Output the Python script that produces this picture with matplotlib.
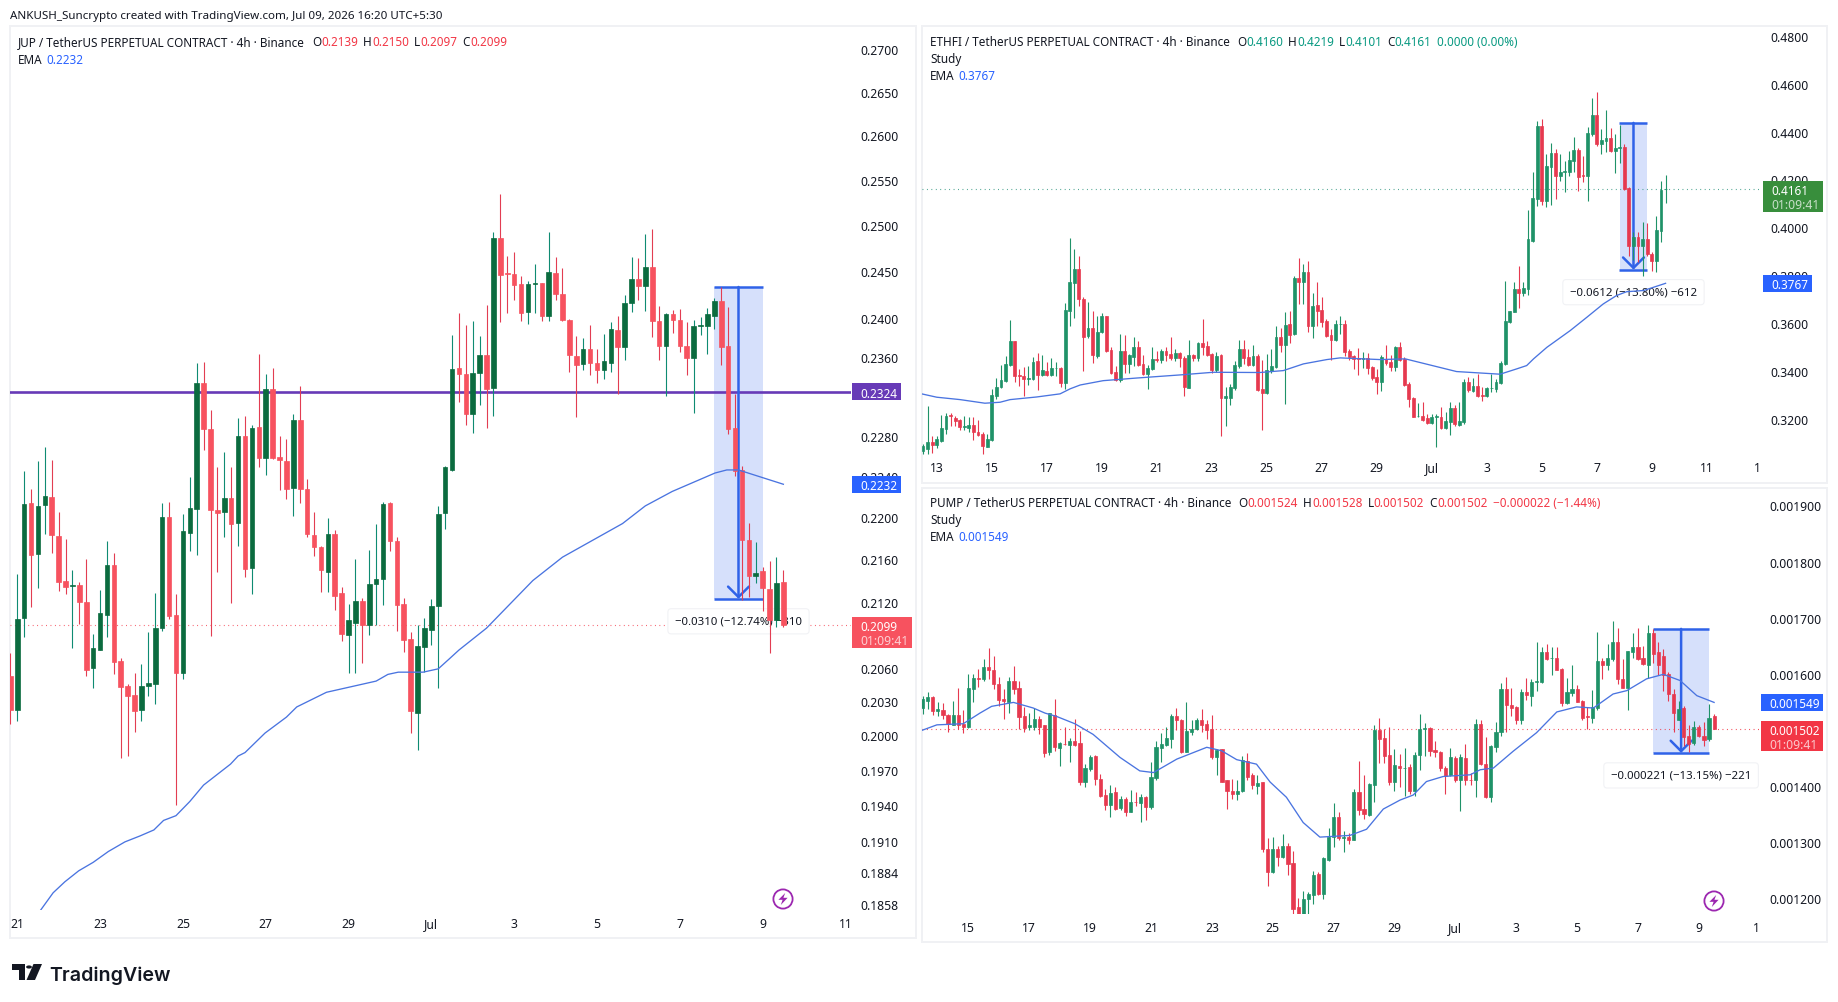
import numpy as np
import matplotlib
matplotlib.use("Agg")
import matplotlib.pyplot as plt
from matplotlib.patches import Rectangle, Circle, Polygon

plt.rcParams['font.family'] = ['Noto Sans', 'DejaVu Sans']

W, H = 1838, 1003
INK = '#131722'
RED_TXT = '#f23645'
GREEN_TXT = '#089981'
BLUE = '#2962ff'

# JUP perpetual, 4h candles, prices in ticks of 0.0001
jup_open = [2053,2022,2105,2214,2165,2212,2220,2182,2140,2135,
            2136,2120,2060,2076,2108,2155,2066,2044,2036,2022,
            2044,2045,2096,2200,2108,2055,2185,2208,2333,2287,
            2207,2205,2219,2195,2280,2152,2289,2258,2327,2259,
            2255,2228,2296,2227,2183,2172,2148,2184,2128,2090,
            2101,2121,2099,2137,2141,2214,2177,2118,2086,2020,
            2079,2094,2116,2204,2246,2348,2342,2302,2343,2362,
            2328,2486,2448,2447,2436,2407,2436,2437,2402,2448,
            2426,2398,2361,2352,2368,2354,2346,2354,2388,2370,
            2416,2441,2434,2454,2397,2371,2404,2398,2371,2359,
            2392,2392,2402,2418,2371,2288,2246,2178,2144,2149,
            2132,2103,2139]
jup_high = [2073,2146,2245,2227,2255,2269,2256,2205,2179,2150,
            2139,2160,2091,2131,2177,2166,2069,2045,2055,2063,
            2092,2128,2214,2215,2127,2203,2239,2353,2355,2306,
            2249,2264,2249,2298,2300,2291,2363,2342,2348,2280,
            2277,2302,2330,2237,2205,2173,2199,2188,2134,2118,
            2160,2124,2169,2194,2215,2215,2181,2124,2092,2099,
            2105,2123,2211,2250,2382,2405,2393,2397,2381,2414,
            2492,2534,2466,2471,2445,2439,2458,2437,2492,2465,
            2453,2399,2381,2379,2393,2368,2383,2396,2402,2425,
            2465,2464,2490,2495,2413,2405,2409,2410,2396,2398,
            2401,2411,2421,2433,2412,2322,2250,2195,2176,2153,
            2158,2162,2150]
jup_low = [2010,2013,2088,2115,2133,2184,2166,2130,2127,2078,
           2100,2053,2042,2076,2088,2054,1980,1982,2003,2013,
           2035,2028,2093,2104,1940,2050,2168,2164,2266,2089,
           2148,2181,2119,2173,2143,2127,2249,2241,2257,2226,
           2218,2201,2214,2181,2163,2129,2129,2113,2084,2055,
           2055,2064,2090,2099,2117,2168,2093,2074,2002,1987,
           2056,2081,2042,2189,2245,2314,2291,2283,2311,2288,
           2300,2396,2406,2419,2397,2394,2406,2397,2397,2419,
           2397,2344,2299,2346,2341,2333,2337,2344,2322,2357,
           2407,2419,2408,2380,2357,2320,2385,2365,2341,2303,
           2382,2363,2389,2351,2282,2240,2122,2125,2138,2112,
           2073,2097,2097]
jup_close = [2022,2104,2213,2164,2211,2221,2183,2139,2134,2136,
             2120,2058,2078,2110,2155,2065,2043,2035,2021,2044,
             2046,2096,2200,2107,2055,2187,2209,2333,2287,2207,
             2204,2219,2194,2280,2151,2288,2258,2327,2258,2256,
             2227,2296,2227,2184,2172,2150,2184,2126,2091,2103,
             2121,2099,2137,2141,2213,2177,2117,2085,2021,2080,
             2096,2116,2203,2249,2347,2342,2302,2343,2362,2327,
             2486,2446,2447,2435,2406,2436,2437,2402,2449,2426,
             2398,2362,2351,2368,2353,2346,2356,2389,2370,2416,
             2441,2434,2454,2397,2371,2404,2398,2371,2359,2392,
             2393,2404,2418,2370,2287,2245,2178,2144,2147,2133,
             2103,2138,2099]
jup_ema_bar = [4.4,6.2,7.9,9.9,12,14.2,16.6,18.8,20.8,22.2,24,26,28,31.9,33,34,36.9,40,41.5,45.8,
               53,54.7,56.2,59.8,62,63.6,65,69,75.7,80,88.7,92,95.9,102.1,103.8,105.5,112]
jup_ema = [1853,1867,1876,1885,1892,1901,1909,1914,1919,1927,1931,1943,1957,1975,1982,1985,2002,2016,2025,2038,
           2048,2054,2056,2056,2059,2068,2076,2096,2140,2162,2194,2211,2225,2243,2246,2246,2232]
jup_ticks = [.2700,.2650,.2600,.2550,.2500,.2450,.2400,.2360,.2280,.2240,.2200,.2160,.2120,
             .2060,.2030,.2000,.1970,.1940,.1910,.1884,.1858]
jup_dates = ['21','23','25','27','29','Jul','3','5','7','9','11']

# ETHFI perpetual, 4h candles, prices in ticks of 0.0001
eth_open = [3068,3076,3104,3094,3111,3160,3218,3207,3196,3168,
            3165,3176,3149,3139,3085,3114,3299,3334,3361,3428,
            3525,3385,3379,3370,3368,3441,3385,3402,3385,3413,
            3414,3352,3653,3769,3827,3702,3548,3580,3463,3563,
            3630,3489,3399,3365,3485,3431,3461,3502,3429,3388,
            3410,3452,3449,3485,3473,3457,3475,3456,3332,3468,
            3454,3518,3504,3471,3406,3466,3288,3290,3331,3424,
            3493,3460,3427,3463,3327,3310,3400,3417,3542,3510,
            3596,3556,3788,3771,3813,3588,3677,3656,3610,3552,
            3531,3596,3598,3485,3463,3456,3452,3454,3416,3377,
            3357,3452,3438,3418,3500,3452,3347,3289,3213,3215,
            3206,3185,3211,3211,3163,3190,3249,3176,3190,3354,
            3318,3340,3302,3296,3329,3327,3352,3431,3607,3649,
            3744,3727,3744,3945,4119,4423,4112,4252,4309,4216,
            4230,4233,4279,4323,4219,4216,4390,4469,4348,4362,
            4373,4319,4332,4334,4163,3921,3959,3924,3952,3890,
            3862,3985,4160]
eth_high = [3097,3257,3132,3132,3218,3226,3225,3213,3201,3213,
            3208,3208,3196,3146,3138,3327,3371,3427,3463,3614,
            3525,3410,3417,3421,3459,3477,3466,3438,3454,3438,
            3420,3685,3956,3910,3880,3709,3688,3650,3632,3644,
            3630,3500,3424,3556,3552,3473,3542,3525,3466,3427,
            3500,3486,3491,3502,3545,3493,3482,3463,3531,3473,
            3524,3618,3528,3477,3480,3471,3334,3348,3441,3529,
            3531,3493,3510,3473,3449,3473,3493,3588,3580,3646,
            3652,3799,3873,3848,3859,3726,3771,3709,3618,3577,
            3612,3632,3612,3493,3466,3496,3480,3477,3421,3410,
            3468,3510,3466,3507,3524,3459,3354,3292,3268,3271,
            3222,3222,3222,3250,3229,3271,3260,3271,3366,3375,
            3371,3389,3334,3334,3389,3368,3441,3776,3653,3771,
            3838,3771,4073,4230,4444,4452,4307,4352,4327,4307,
            4279,4320,4376,4330,4300,4418,4541,4564,4411,4489,
            4414,4390,4427,4347,4168,3980,3980,4022,4019,3899,
            4049,4193,4219]
eth_low = [3056,3056,3060,3079,3104,3139,3174,3171,3157,3157,
           3146,3115,3129,3057,3083,3111,3285,3329,3357,3421,
           3357,3340,3299,3343,3365,3324,3379,3379,3382,3379,
           3336,3327,3588,3623,3674,3402,3538,3435,3454,3560,
           3482,3389,3361,3357,3393,3393,3424,3421,3385,3327,
           3407,3438,3435,3445,3449,3445,3417,3299,3329,3441,
           3443,3468,3463,3393,3399,3132,3171,3261,3324,3413,
           3431,3421,3424,3316,3157,3306,3393,3413,3480,3264,
           3518,3552,3681,3681,3566,3538,3591,3584,3542,3449,
           3528,3556,3463,3449,3410,3386,3413,3389,3365,3307,
           3318,3427,3403,3403,3445,3340,3253,3208,3208,3194,
           3181,3181,3083,3160,3160,3136,3171,3171,3181,3315,
           3313,3292,3278,3292,3315,3315,3347,3428,3602,3646,
           3664,3716,3719,3941,4088,4094,4087,4094,4119,4195,
           4147,4216,4233,4154,4188,4112,4383,4339,4308,4316,
           4316,4227,4269,4158,3880,3866,3858,3796,3883,3820,
           3813,3938,4101]
eth_close = [3090,3104,3094,3117,3163,3215,3213,3193,3168,3172,
             3176,3149,3135,3089,3118,3302,3334,3364,3431,3525,
             3382,3381,3368,3372,3438,3385,3406,3385,3413,3414,
             3352,3656,3771,3827,3702,3545,3581,3466,3566,3630,
             3486,3393,3365,3485,3431,3466,3500,3427,3390,3413,
             3452,3449,3484,3468,3457,3477,3454,3334,3467,3457,
             3518,3500,3466,3406,3463,3288,3295,3334,3425,3493,
             3457,3427,3463,3324,3311,3406,3421,3542,3510,3593,
             3552,3791,3771,3813,3587,3671,3653,3607,3549,3532,
             3598,3599,3482,3460,3452,3453,3454,3413,3371,3357,
             3459,3435,3418,3502,3449,3343,3285,3211,3215,3199,
             3185,3208,3213,3163,3194,3249,3181,3194,3354,3322,
             3340,3296,3299,3329,3331,3354,3435,3609,3650,3744,
             3727,3746,3952,4122,4423,4112,4255,4311,4216,4230,
             4236,4280,4323,4212,4213,4393,4469,4348,4366,4373,
             4320,4332,4334,4161,3924,3959,3924,3952,3888,3862,
             3988,4158,4161]
eth_ema_bar = [-0.3,3,8.1,13.5,16.8,19,24.8,29.9,32.1,34.3,39.3,46.6,56.1,63.3,73.5,78.6,83,88.1,91,
               99.7,105.2,116.4,125.9,129.5,131.7,133.2,136.1,141.2,144.8,148.4,151.3,153.5,157.2,162]
eth_ema = [3306,3292,3282,3267,3271,3282,3293,3306,3327,3343,3361,3372,3385,3396,3395,3403,3431,3449,3456,
           3449,3452,3399,3388,3410,3424,3452,3500,3570,3625,3681,3716,3732,3737,3767]
eth_ticks = [.48,.46,.44,.42,.40,.38,.36,.34,.32]
eth_dates = ['13','15','17','19','21','23','25','27','29','Jul','3','5','7','9','11','1']

# PUMP perpetual, 4h candles, prices in ticks of 0.000001
pump_open = [1539,1552,1559,1533,1535,1527,1509,1527,1511,1505,
             1573,1593,1590,1612,1607,1582,1555,1549,1588,1575,
             1524,1505,1505,1520,1508,1460,1527,1467,1475,1473,
             1480,1476,1407,1430,1454,1413,1384,1366,1389,1360,
             1377,1354,1372,1370,1380,1362,1414,1467,1473,1484,
             1524,1518,1461,1497,1502,1518,1511,1501,1451,1466,
             1410,1392,1386,1391,1445,1419,1400,1407,1288,1246,
             1287,1273,1294,1263,1184,1172,1198,1206,1243,1208,
             1268,1309,1344,1307,1310,1304,1390,1359,1348,1402,
             1500,1485,1455,1408,1435,1432,1434,1392,1455,1501,
             1504,1464,1461,1433,1420,1450,1410,1450,1411,1410,
             1511,1439,1380,1469,1496,1573,1544,1540,1518,1567,
             1561,1586,1585,1638,1628,1629,1609,1548,1566,1573,
             1552,1525,1522,1539,1622,1615,1626,1656,1591,1574,
             1638,1647,1628,1616,1673,1638,1631,1600,1564,1518,
             1539,1490,1477,1506,1489,1483,1524]
pump_high = [1560,1567,1561,1549,1548,1528,1552,1574,1536,1600,
             1600,1609,1626,1646,1632,1594,1573,1594,1614,1588,
             1540,1531,1539,1525,1509,1531,1555,1478,1506,1485,
             1520,1498,1439,1456,1455,1421,1395,1402,1398,1383,
             1380,1393,1389,1386,1383,1443,1480,1495,1506,1528,
             1539,1520,1549,1518,1522,1537,1517,1526,1466,1466,
             1411,1413,1410,1454,1459,1424,1420,1408,1307,1309,
             1294,1314,1298,1284,1200,1213,1212,1248,1246,1273,
             1325,1370,1354,1320,1316,1394,1445,1420,1405,1509,
             1522,1502,1505,1466,1457,1467,1439,1461,1528,1512,
             1505,1481,1463,1435,1467,1454,1457,1475,1424,1520,
             1518,1488,1473,1514,1584,1594,1574,1543,1572,1592,
             1591,1656,1647,1653,1647,1647,1610,1592,1615,1580,
             1554,1540,1571,1674,1629,1653,1694,1682,1626,1641,
             1673,1681,1650,1687,1680,1657,1645,1604,1573,1552,
             1543,1509,1516,1509,1514,1546,1528]
pump_low = [1529,1537,1526,1525,1520,1497,1508,1501,1495,1504,
            1549,1576,1588,1591,1573,1542,1520,1531,1564,1501,
            1497,1499,1499,1493,1452,1455,1463,1435,1473,1442,
            1471,1402,1399,1427,1401,1380,1358,1345,1358,1358,
            1347,1353,1364,1336,1340,1359,1411,1442,1471,1467,
            1499,1459,1460,1491,1499,1497,1484,1449,1420,1407,
            1359,1377,1376,1390,1411,1394,1386,1282,1222,1245,
            1258,1271,1241,1168,1168,1168,1172,1190,1206,1198,
            1267,1291,1304,1283,1297,1303,1348,1342,1347,1371,
            1441,1441,1401,1392,1398,1383,1386,1382,1429,1454,
            1454,1451,1427,1386,1417,1407,1356,1402,1401,1380,
            1438,1378,1372,1461,1489,1496,1525,1511,1511,1554,
            1543,1569,1584,1624,1597,1606,1543,1546,1560,1549,
            1517,1502,1512,1536,1591,1607,1622,1582,1574,1536,
            1629,1624,1615,1592,1620,1598,1570,1552,1496,1517,
            1472,1460,1473,1487,1471,1481,1502]
pump_close = [1555,1559,1533,1537,1526,1511,1527,1509,1506,1575,
              1592,1591,1612,1606,1582,1553,1552,1588,1573,1523,
              1503,1508,1520,1506,1459,1530,1469,1476,1474,1480,
              1473,1407,1432,1452,1413,1383,1366,1388,1359,1377,
              1354,1372,1371,1380,1362,1416,1469,1475,1485,1525,
              1517,1461,1498,1501,1518,1509,1499,1451,1465,1408,
              1392,1386,1391,1447,1416,1401,1405,1287,1246,1287,
              1273,1294,1261,1181,1172,1199,1208,1241,1207,1271,
              1310,1344,1307,1310,1304,1390,1358,1350,1404,1500,
              1484,1454,1407,1438,1432,1433,1392,1455,1501,1504,
              1463,1460,1432,1418,1451,1410,1451,1410,1410,1511,
              1439,1380,1471,1496,1573,1544,1539,1518,1567,1562,
              1586,1587,1638,1626,1629,1607,1548,1567,1573,1550,
              1522,1523,1540,1622,1615,1628,1656,1590,1575,1640,
              1647,1626,1618,1673,1635,1615,1598,1564,1530,1537,
              1487,1475,1506,1489,1482,1522,1502]
pump_ema_bar = [-0.2,2.8,8,11.3,13.6,17.9,21.8,24.1,26.4,30,33.6,38.9,42.8,45.5,50.1,56,58.9,61.9,65.8,
                68.5,71.7,75,78.3,84.2,87.5,90.8,94.1,96.7,99.3,102.6,107.9,109.9,112.5,116.4,121,125,
                128.9,132.2,136.1,138.8,142.7,146,149.3,152.6,156]
pump_ema = [1499,1509,1511,1530,1542,1549,1539,1530,1524,1511,1492,1451,1427,1424,1448,1469,1463,1447,1439,
            1407,1380,1335,1309,1312,1323,1359,1375,1384,1408,1417,1420,1429,1432,1462,1495,1532,
            1541,1539,1564,1570,1591,1599,1588,1561,1549]
pump_ticks = [.0019,.0018,.0017,.0016,.0014,.0013,.0012]
pump_dates = ['15','17','19','21','23','25','27','29','Jul','3','5','7','9','1']

fig = plt.figure(figsize=(W / 100, H / 100), dpi=100, facecolor='white')


def fx(x):
    return x / W


def fy(y):
    return 1 - y / H


def px_rect(l, t, r, b, **kw):
    fig.add_artist(Rectangle((fx(l), fy(b)), (r - l) / W, (b - t) / H,
                             transform=fig.transFigure, **kw))


def px_text(x, y, s, size=12.0, color=INK, **kw):
    kw.setdefault('va', 'baseline')
    return fig.text(fx(x), fy(y), s, fontsize=size * 0.72, color=color, zorder=6, **kw)


def legend_row(x, y, parts, size=11.75):
    """Lay out coloured legend fragments left to right from x, at baseline y."""
    rend = fig.canvas.get_renderer()
    for s, col, gap in parts:
        t = px_text(x, y, s, size=size, color=col)
        x = t.get_window_extent(rend).x1 + gap


def make_axes(l, t, r, b, xlim, ylim, log=False):
    ax = fig.add_axes([fx(l), fy(b), (r - l) / W, (b - t) / H])
    if log:
        ax.set_yscale('log')
    ax.set_xlim(*xlim)
    ax.set_ylim(*ylim)
    for s in ax.spines.values():
        s.set_visible(False)
    ax.patch.set_alpha(0)
    ax.minorticks_off()
    return ax


def set_ticks(ax, yticks, fmt, first_date, dates, last_date_pos=None, ypad=6.5, xpad=4.8):
    ax.yaxis.tick_right()
    ax.set_yticks(yticks)
    ax.set_yticklabels([fmt.format(v) for v in yticks], fontsize=12.2 * .72, color=INK)
    ax.set_yticks([], minor=True)
    pos = [first_date + 12 * n for n in range(len(dates))]
    if last_date_pos is not None:
        pos[-1] = last_date_pos
    ax.set_xticks(pos)
    ax.set_xticklabels(dates, fontsize=12.2 * .72, color=INK)
    ax.tick_params(axis='both', which='both', length=0)
    ax.tick_params(axis='y', pad=ypad)
    ax.tick_params(axis='x', pad=xpad)


def candles(ax, o, h, l, c, width, up_body, dn_body, up_wick, dn_wick):
    o, h, l, c = map(np.asarray, (o, h, l, c))
    x = np.arange(len(o))
    up = c >= o
    ax.vlines(x[up], l[up], h[up], color=up_wick, lw=0.8, zorder=3, clip_on=True)
    ax.vlines(x[~up], l[~up], h[~up], color=dn_wick, lw=0.8, zorder=3, clip_on=True)
    bottoms = np.minimum(o, c)
    heights = np.abs(c - o)
    ax.bar(x[up], heights[up], bottom=bottoms[up], width=width, color=up_body,
           edgecolor=up_body, lw=0.5, zorder=4)
    ax.bar(x[~up], heights[~up], bottom=bottoms[~up], width=width, color=dn_body,
           edgecolor=dn_body, lw=0.5, zorder=4)


def measure(ax, bar0, bar1, top, bottom, label):
    ax.fill_between([bar0, bar1], bottom, top, color='#d6e0fb', lw=0, zorder=1)
    ax.plot([bar0 - 0.1, bar1], [top, top], color='#2f62e8', lw=1.8, zorder=2.5,
            solid_capstyle='butt')
    ax.plot([bar0 - 0.1, bar1], [bottom, bottom], color='#2f62e8', lw=1.8, zorder=2.5,
            solid_capstyle='butt')
    mid = (bar0 + bar1) / 2
    ax.annotate('', xy=(mid, bottom), xytext=(mid, top), zorder=2.6,
                arrowprops=dict(arrowstyle='->,head_length=0.75,head_width=0.75',
                                color='#2f62e8', lw=1.8, shrinkA=0, shrinkB=0,
                                mutation_scale=10))
    ax.annotate(label, xy=(mid, bottom), xytext=(0, -16.2), textcoords='offset points',
                ha='center', va='center', fontsize=11.45 * .72, color=INK, zorder=2,
                annotation_clip=False,
                bbox=dict(boxstyle='round,pad=0.62,rounding_size=0.3', fc='white',
                          ec='#f1f2f5', lw=0.8))


def price_tag(ax, value, l, r, text, color, timer=None, text_x=None):
    ypx = H - ax.transData.transform((0, value))[1]
    if timer is None:
        px_rect(l, ypx - 8.5, r, ypx + 8.5, fc=color, ec='none', zorder=5)
        px_text(text_x, ypx, text, size=11.8, color='white', va='center_baseline', weight='bold')
    else:
        px_rect(l, ypx - 8, r, ypx + 22.7, fc=color, ec='none', zorder=5)
        px_text(text_x, ypx, text, size=11.8, color='white', va='center_baseline', weight='bold')
        px_text(text_x, ypx + 14, timer, size=12.2, color='#ffffff', alpha=0.72, va='center_baseline')


def bolt_icon(cx, cy):
    ax_icon = fig.add_axes([fx(cx - 12), fy(cy + 12), 24 / W, 24 / H], zorder=7)
    ax_icon.set_xlim(-12, 12)
    ax_icon.set_ylim(-12, 12)
    ax_icon.axis('off')
    ax_icon.add_patch(Circle((0, 0), 9.6, fc='white', ec='#9c27b0', lw=1.3))
    ax_icon.add_patch(Polygon([(2.2, 6), (-4.6, -0.8), (-0.4, -0.8), (-2.2, -6), (4.6, 1.2), (0.4, 1.2)],
                              fc='#9c27b0', ec='none'))


def ticks(seq, unit):
    return np.asarray(seq, dtype=float) * unit


# pane frames
FRAME = dict(fc='white', ec='#f0f1f4', lw=1.4, zorder=-1)
px_rect(10, 27, 916, 939, **FRAME)
px_rect(922, 27, 1827, 484, **FRAME)
px_rect(922, 489, 1827, 943, **FRAME)

px_text(10, 19, 'ANKUSH_Suncrypto created with TradingView.com, Jul 09, 2026 16:20 UTC+5:30', size=11.6)

DOTS = (0, (0.8, 3.2))
NAME_GAP = 7
VAL_GAP = 5.3
EMA_GAP = 3.5

# --- JUP pane ---
ax1 = make_axes(10, 27, 851, 911, (-0.05, 121.8), (0.1853, 0.2727), log=True)
set_ticks(ax1, jup_ticks, '{:.4f}', 1, jup_dates, xpad=5.4)
ax1.axhline(0.2324, color='#673ab7', lw=1.9, zorder=2)
ax1.axhline(0.2099, color='#f7525f', lw=0.8, ls=DOTS, zorder=1.5)
measure(ax1, 102, 109, 0.2433, 0.2123, '\u22120.0310 (\u221212.74%) \u2212310')
candles(ax1, ticks(jup_open, 1e-4), ticks(jup_high, 1e-4), ticks(jup_low, 1e-4), ticks(jup_close, 1e-4),
        0.66, '#0b6b3f', '#f7525f', '#0f8b72', '#e23d52')
ax1.plot(jup_ema_bar, ticks(jup_ema, 1e-4), color='#4a74e0', lw=0.95, zorder=5)
price_tag(ax1, 0.2324, 852, 901, '0.2324', '#673ab7', text_x=860)
price_tag(ax1, 0.2232, 852, 901, '0.2232', BLUE, text_x=860)
price_tag(ax1, 0.2099, 852, 912, '0.2099', '#f7525f', timer='01:09:41', text_x=860)
legend_row(18, 46, [('JUP / TetherUS PERPETUAL CONTRACT \u00b7 4h \u00b7 Binance', INK, NAME_GAP),
                    ('O', INK, 0), ('0.2139', RED_TXT, VAL_GAP), ('H', INK, 0), ('0.2150', RED_TXT, VAL_GAP),
                    ('L', INK, 0), ('0.2097', RED_TXT, VAL_GAP), ('C', INK, 0), ('0.2099', RED_TXT, 0)])
legend_row(18, 63.5, [('EMA', INK, EMA_GAP), ('0.2232', BLUE, 0)])
bolt_icon(783, 900)

# --- ETHFI pane ---
ax2 = make_axes(922, 28, 1760, 456, (-0.22, 182.6), (0.3051, 0.4836))
set_ticks(ax2, eth_ticks, '{:.4f}', 3, eth_dates, last_date_pos=182, ypad=7.6, xpad=4.6)
ax2.axhline(0.4161, color='#3d9c87', lw=0.8, ls=DOTS, zorder=1.5)
measure(ax2, 152, 158, 0.4436, 0.3824, '\u22120.0612 (\u221213.80%) \u2212612')
candles(ax2, ticks(eth_open, 1e-4), ticks(eth_high, 1e-4), ticks(eth_low, 1e-4), ticks(eth_close, 1e-4),
        0.62, '#1f9268', '#e6394f', '#1f9268', '#e6394f')
ax2.plot(eth_ema_bar, ticks(eth_ema, 1e-4), color='#4a74e0', lw=0.95, zorder=5)
price_tag(ax2, 0.3767, 1763, 1812, '0.3767', BLUE, text_x=1771)
price_tag(ax2, 0.4161, 1763, 1823, '0.4161', '#388e3c', timer='01:09:41', text_x=1771)
legend_row(930, 46.5, [('ETHFI / TetherUS PERPETUAL CONTRACT \u00b7 4h \u00b7 Binance', INK, NAME_GAP),
                       ('O', INK, 0), ('0.4160', GREEN_TXT, VAL_GAP), ('H', INK, 0), ('0.4219', GREEN_TXT, VAL_GAP),
                       ('L', INK, 0), ('0.4101', GREEN_TXT, VAL_GAP), ('C', INK, 0), ('0.4161', GREEN_TXT, VAL_GAP),
                       ('0.0000 (0.00%)', GREEN_TXT, 0)])
px_text(930, 63, 'Study', size=11.75)
legend_row(930, 80, [('EMA', INK, EMA_GAP), ('0.3767', BLUE, 0)])

# --- PUMP pane ---
ax3 = make_axes(922, 489, 1760, 915, (-0.13, 165.05), (0.001172, 0.001931))
set_ticks(ax3, pump_ticks, '{:.6f}', 9, pump_dates, last_date_pos=164.4, ypad=6.5, xpad=5.0)
ax3.axhline(0.001502, color='#f23645', lw=0.8, ls=DOTS, zorder=1.5)
measure(ax3, 144, 155, 0.001680, 0.001459, '\u22120.000221 (\u221213.15%) \u2212221')
candles(ax3, ticks(pump_open, 1e-6), ticks(pump_high, 1e-6), ticks(pump_low, 1e-6), ticks(pump_close, 1e-6),
        0.62, '#1f9268', '#e6394f', '#1f9268', '#e6394f')
ax3.plot(pump_ema_bar, ticks(pump_ema, 1e-6), color='#4a74e0', lw=0.95, zorder=5)
price_tag(ax3, 0.001549, 1761, 1823, '0.001549', BLUE, text_x=1769)
price_tag(ax3, 0.001502, 1761, 1823, '0.001502', '#f23645', timer='01:09:41', text_x=1769)
legend_row(930, 507.3, [('PUMP / TetherUS PERPETUAL CONTRACT \u00b7 4h \u00b7 Binance', INK, NAME_GAP),
                        ('O', INK, 0), ('0.001524', RED_TXT, VAL_GAP), ('H', INK, 0), ('0.001528', RED_TXT, VAL_GAP),
                        ('L', INK, 0), ('0.001502', RED_TXT, VAL_GAP), ('C', INK, 0), ('0.001502', RED_TXT, VAL_GAP),
                        ('\u22120.000022 (\u22121.44%)', RED_TXT, 0)])
px_text(930, 524, 'Study', size=11.75)
legend_row(930, 541, [('EMA', INK, EMA_GAP), ('0.001549', BLUE, 0)])
bolt_icon(1714, 902)

# TradingView wordmark
LOGO = '#131722'
px_rect(12, 965, 24.5, 970.5, fc=LOGO, ec='none')
px_rect(18.5, 965, 24.5, 981, fc=LOGO, ec='none')
fig.add_artist(Polygon([(fx(33.5), fy(965)), (fx(42), fy(965)), (fx(35), fy(981)), (fx(26.5), fy(981))],
                       transform=fig.transFigure, fc=LOGO, ec='none'))
fig.add_artist(Circle((fx(29), fy(968)), 2.9 / W, transform=fig.transFigure, fc=LOGO, ec='none'))
px_text(49, 981, 'TradingView', size=19.6, color=LOGO, family=['Inter', 'DejaVu Sans'], weight='semibold')

fig.savefig('out.png', dpi=100, facecolor='white')
